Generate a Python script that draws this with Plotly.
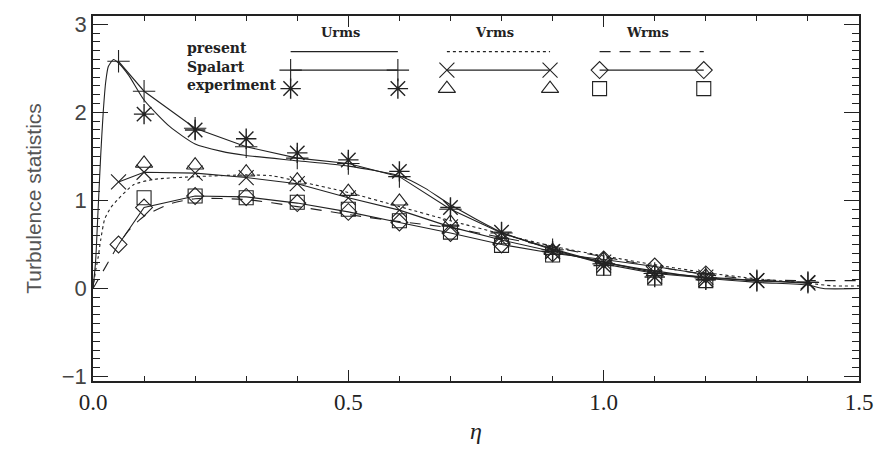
import plotly.graph_objects as go

# ---------------- data ----------------
eta_pts = [0.05, 0.1, 0.2, 0.3, 0.4, 0.5, 0.6, 0.7, 0.8, 0.9, 1.0, 1.1, 1.2, 1.3, 1.4]

# Spalart (DNS) - connected markers
spalart_u = [2.58, 2.24, 1.82, 1.61, 1.48, 1.42, 1.27, 0.90, 0.63, 0.44, 0.28, 0.17, 0.12, 0.09, 0.07]
spalart_v = [1.21, 1.32, 1.31, 1.26, 1.19, 1.03, 0.89, 0.70, 0.55, 0.42, 0.30, 0.18, 0.13, 0.09, 0.06]
eta_spalart_w = [0.05, 0.1, 0.2, 0.3, 0.4, 0.5, 0.6, 0.7, 0.8, 0.9, 1.0, 1.1, 1.2]
spalart_w = [0.50, 0.92, 1.05, 1.04, 0.97, 0.87, 0.75, 0.63, 0.50, 0.40, 0.33, 0.25, 0.16]

# experiment - markers only
eta_exp_u = [0.1, 0.2, 0.3, 0.4, 0.5, 0.6, 0.7, 0.8, 0.9, 1.0, 1.1, 1.2, 1.3, 1.4]
exp_u = [1.98, 1.80, 1.70, 1.54, 1.46, 1.33, 0.92, 0.64, 0.42, 0.26, 0.13, 0.10, 0.09, 0.07]
eta_exp_vw = [0.1, 0.2, 0.3, 0.4, 0.5, 0.6, 0.7, 0.8, 0.9, 1.0, 1.1, 1.2]
exp_v = [1.42, 1.40, 1.32, 1.23, 1.10, 0.99, 0.75, 0.55, 0.43, 0.33, 0.19, 0.14]
exp_w = [1.03, 1.05, 1.03, 0.98, 0.90, 0.77, 0.64, 0.49, 0.38, 0.23, 0.12, 0.09]

# present computation - curves
eta_present_u = [0.0, 0.005, 0.01, 0.015, 0.02, 0.025, 0.03, 0.04, 0.05, 0.07, 0.1, 0.15, 0.2,
                 0.25, 0.3, 0.4, 0.5, 0.6, 0.65, 0.7, 0.8, 0.9, 1.0, 1.1, 1.2, 1.3, 1.4, 1.43, 1.5]
present_u = [0.0, 0.3, 0.9, 1.5, 2.0, 2.35, 2.52, 2.6, 2.56, 2.42, 2.14, 1.84, 1.64,
             1.56, 1.51, 1.45, 1.39, 1.28, 1.14, 0.95, 0.64, 0.45, 0.30, 0.20, 0.12, 0.07, 0.04, 0.0, 0.0]
eta_present_v = [0.0, 0.005, 0.01, 0.015, 0.023, 0.035, 0.05, 0.08, 0.12, 0.2, 0.3, 0.35, 0.4,
                 0.5, 0.6, 0.7, 0.8, 0.9, 1.0, 1.1, 1.2, 1.3, 1.4, 1.45, 1.5]
present_v = [0.0, 0.2, 0.35, 0.55, 0.79, 0.92, 1.02, 1.18, 1.24, 1.27, 1.29, 1.28, 1.22,
             1.09, 0.93, 0.77, 0.62, 0.48, 0.37, 0.27, 0.18, 0.11, 0.06, 0.03, 0.03]
eta_present_w = [0.0, 0.01, 0.02, 0.03, 0.05, 0.07, 0.1, 0.15, 0.2, 0.3, 0.4, 0.5, 0.6, 0.7,
                 0.8, 0.9, 1.0, 1.1, 1.2, 1.3, 1.4, 1.5]
present_w = [0.0, 0.1, 0.2, 0.3, 0.5, 0.66, 0.82, 0.96, 1.02, 1.01, 0.93, 0.84, 0.76, 0.69,
             0.58, 0.47, 0.36, 0.25, 0.16, 0.10, 0.09, 0.09]

x_ticks = [0.0, 0.5, 1.0, 1.5]
x_tick_labels = ["0.0", "0.5", "1.0", "1.5"]
y_ticks = [-1, 0, 1, 2, 3]

row_labels = ["present", "Spalart", "experiment"]
col_labels = ["Urms", "Vrms", "Wrms"]

# ---------------- styling / legend layout ----------------
INK = "#222222"
LW = 1.1
DASH = "11px,9px"

leg_x = [(0.387, 0.597), (0.693, 0.895), (0.992, 1.196)]
leg_y_present, leg_y_spalart, leg_y_exp = 2.69, 2.48, 2.27
leg_text_x = 0.181
leg_text_y = [2.73, 2.52, 2.31]
col_text_y = 2.91

fig = go.Figure()

def curve(x, y, dash):
    fig.add_trace(go.Scatter(x=x, y=y, mode="lines", showlegend=False, hoverinfo="skip",
                             line=dict(color=INK, width=LW, dash=dash, shape="spline", smoothing=0.6)))

def spal(x, y, sym, size):
    fig.add_trace(go.Scatter(x=x, y=y, mode="lines+markers", showlegend=False, hoverinfo="skip",
                             line=dict(color=INK, width=LW),
                             marker=dict(symbol=sym, size=size, color=INK,
                                         line=dict(color=INK, width=1.1))))

def expm(x, y, sym, size, w=1.1):
    fig.add_trace(go.Scatter(x=x, y=y, mode="markers", showlegend=False, hoverinfo="skip",
                             marker=dict(symbol=sym, size=size, color=INK,
                                         line=dict(color=INK, width=w))))

curve(eta_present_u, present_u, "solid")
curve(eta_present_v, present_v, "dot")
curve(eta_present_w, present_w, DASH)

spal(eta_pts, spalart_u, "cross-thin-open", 16)
spal(eta_pts, spalart_v, "x-thin-open", 15)
spal(eta_spalart_w, spalart_w, "diamond-open", 13)

expm(eta_exp_u, exp_u, "asterisk-open", 17, 1.4)
expm(eta_exp_vw, exp_v, "triangle-up-open", 15)
expm(eta_exp_vw, exp_w, "square-open", 14)

# ---- custom legend block ----
dashes = ["solid", "dot", DASH]
spal_syms = [("cross-thin-open", 16), ("x-thin-open", 15), ("diamond-open", 13)]
exp_syms = [("asterisk-open", 17, 1.4), ("triangle-up-open", 15, 1.1), ("square-open", 14, 1.1)]
for i in range(3):
    xs = list(leg_x[i])
    fig.add_trace(go.Scatter(x=xs, y=[leg_y_present] * 2, mode="lines", showlegend=False,
                             hoverinfo="skip", line=dict(color=INK, width=LW, dash=dashes[i])))
    spal(xs, [leg_y_spalart] * 2, spal_syms[i][0], spal_syms[i][1])
    expm(xs, [leg_y_exp] * 2, exp_syms[i][0], exp_syms[i][1], exp_syms[i][2])
    fig.add_annotation(x=sum(xs) / 2 - 0.008, y=col_text_y, text=f"<b>{col_labels[i]}</b>",
                       showarrow=False, xanchor="center", yanchor="middle",
                       font=dict(family="DejaVu Serif", size=13, color=INK))

for lab, ty in zip(row_labels, leg_text_y):
    fig.add_annotation(x=leg_text_x, y=ty, text=f"<b>{lab}</b>", showarrow=False,
                       xanchor="left", yanchor="middle",
                       font=dict(family="DejaVu Serif", size=14, color=INK))

fig.update_layout(
    width=885, height=452,
    margin=dict(l=93, r=21, t=12, b=67),
    paper_bgcolor="white", plot_bgcolor="white",
    showlegend=False,
    xaxis=dict(
        range=[0, 1.5], tickvals=x_ticks, ticktext=x_tick_labels,
        ticks="inside", ticklen=11, tickwidth=1, tickcolor=INK,
        minor=dict(dtick=0.1, tick0=0, ticks="inside", ticklen=5, tickcolor=INK),
        showline=True, linecolor=INK, linewidth=1.5, mirror="allticks",
        showgrid=False, zeroline=False,
        tickfont=dict(family="Liberation Serif", size=23, color=INK),
        title=dict(text="<i>η</i>", font=dict(family="Liberation Serif", size=24, color=INK),
                   standoff=8),
    ),
    yaxis=dict(
        range=[-1.05, 3.094], tickvals=y_ticks,
        ticks="inside", ticklen=15, tickwidth=1, tickcolor=INK,
        minor=dict(dtick=0.1, tick0=0, ticks="inside", ticklen=7, tickcolor=INK),
        showline=True, linecolor=INK, linewidth=1.5, mirror="allticks",
        showgrid=False, zeroline=False,
        tickfont=dict(family="Liberation Sans", size=22, color="#444444"),
        title=dict(text="Turbulence statistics",
                   font=dict(family="Liberation Sans", size=21, color="#555555"),
                   standoff=14),
    ),
)

fig.write_html("out.html")
